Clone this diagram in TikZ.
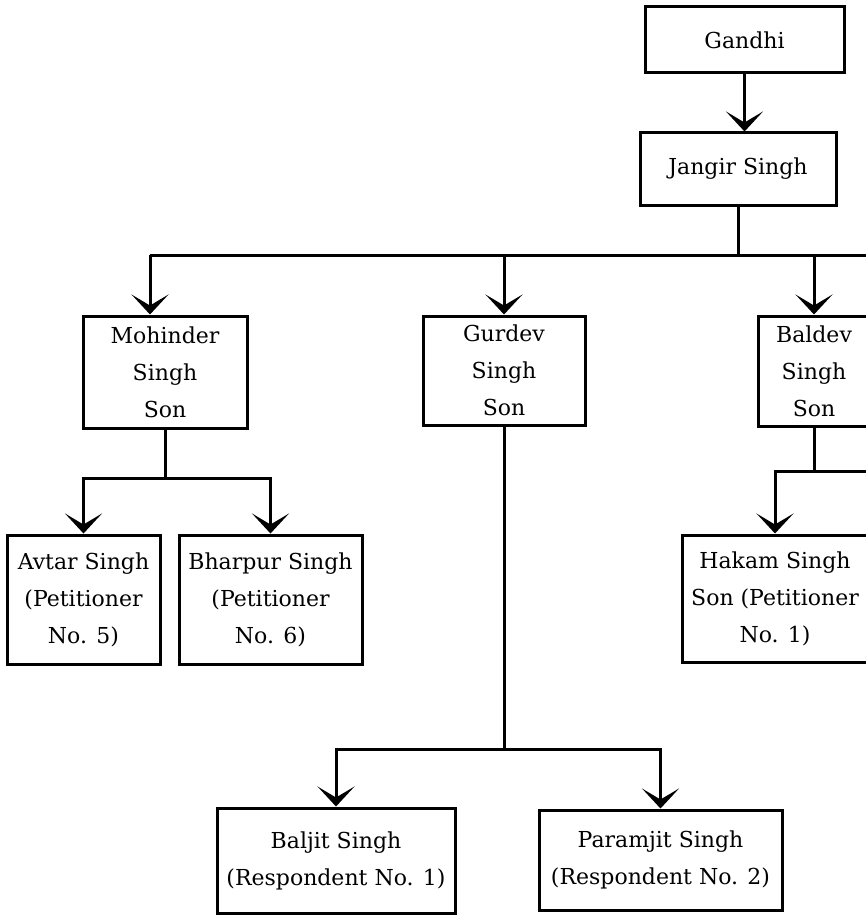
\documentclass[tikz,border=0pt]{standalone}
\usepackage{fontspec}
\setmainfont{DejaVu Serif}
\usepackage{tikz}
\usetikzlibrary{arrows.meta, positioning}
\tikzset{
  person/.style={
    draw,
    line width=3pt,
    align=center,
    inner sep=0pt,
    font=\fontsize{22}{37}\selectfont
  },
  link/.style={line width=3pt},
  descent/.style={
    link,
    -{Stealth[length=20pt, width=37pt, inset=11pt]}
  }
}

\begin{document}
\begin{tikzpicture}[x=1pt, y=-1pt]
  \useasboundingbox (0,0) rectangle (866,915);
  \clip (0,0) rectangle (866,915);

  % Ancestors
  \node[person, minimum width=199pt, minimum height=66pt] (gandhi) at (744.5,40) {Gandhi};
  \node[person, minimum width=196pt, minimum height=72pt] (jangir) at (738,169) {Jangir Singh};

  % Sons
  \node[person, minimum width=164pt, minimum height=112pt] (mohinder) at (165,372) {Mohinder\\Singh\\Son};
  \node[person, minimum width=162pt, minimum height=109pt] (gurdev) at (504,370.5) {Gurdev\\Singh\\Son};
  \node[person, minimum width=112pt, minimum height=110pt] (baldev) at (814,371) {Baldev\\Singh\\Son};

  % Grandsons
  \node[person, minimum width=153pt, minimum height=129pt] (avtar) at (83.5,599.5) {Avtar Singh\\(Petitioner\\No. 5)};
  \node[person, minimum width=183pt, minimum height=129pt] (bharpur) at (270.5,599.5) {Bharpur Singh\\(Petitioner\\No. 6)};
  \node[person, minimum width=186pt, minimum height=127pt] (hakam) at (775,598.5) {Hakam Singh\\Son (Petitioner\\No. 1)};
  \node[person, minimum width=238pt, minimum height=105pt] (baljit) at (336,860.5) {Baljit Singh\\(Respondent No. 1)};
  \node[person, minimum width=243pt, minimum height=100pt] (paramjit) at (660.5,860) {Paramjit Singh\\(Respondent No. 2)};

  % Forks
  \coordinate (sons bar) at (150,255);
  \coordinate (sons end) at (870,255);
  \coordinate (mohinder fork) at (165,478);
  \coordinate (gurdev fork) at (504,749);
  \coordinate (baldev fork) at (814,471);
  \coordinate (baldev end) at (870,471);

  % Gandhi -> Jangir Singh
  \draw[descent] (gandhi.south) -- (gandhi.south |- jangir.north);

  % Jangir Singh -> sons
  \draw[link] (jangir.south) -- (jangir.south |- sons bar);
  \draw[link] (sons bar) -- (sons end);
  \draw[descent] (sons bar) -- (sons bar |- mohinder.north);
  \draw[descent] (gurdev.north |- sons bar) -- (gurdev.north);
  \draw[descent] (baldev.north |- sons bar) -- (baldev.north);

  % Mohinder Singh -> sons
  \draw[link] (mohinder.south) -- (mohinder fork);
  \draw[descent] (mohinder fork) -| (avtar.north);
  \draw[descent] (mohinder fork) -| (bharpur.north);

  % Baldev Singh -> son
  \draw[link] (baldev.south) -- (baldev fork);
  \draw[link] (baldev fork) -- (baldev end);
  \draw[descent] (baldev fork) -| (hakam.north);

  % Gurdev Singh -> sons
  \draw[link] (gurdev.south) -- (gurdev fork);
  \draw[descent] (gurdev fork) -| (baljit.north);
  \draw[descent] (gurdev fork) -| (paramjit.north);
\end{tikzpicture}
\end{document}
